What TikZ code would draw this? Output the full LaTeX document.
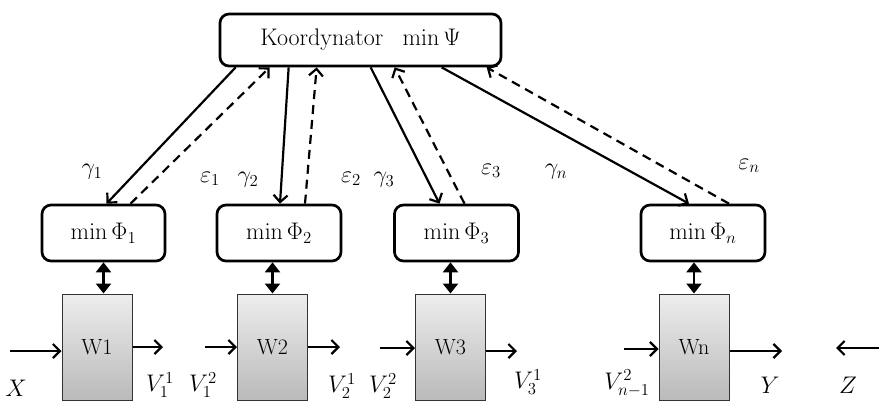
\RequirePackage{fix-cm}
\documentclass[tikz,border=0pt]{standalone}
\usetikzlibrary{arrows.meta,calc}
\begin{document}
\begin{tikzpicture}[x=1pt,y=-1pt,
  font=\fontsize{24}{28}\selectfont,
  rbox/.style={draw,line width=2.7pt,rounded corners=9pt,minimum height=56pt,inner sep=0pt},
  wbox/.style={draw=black!80,line width=1pt,top color=black!7,bottom color=black!27,minimum width=70pt,minimum height=106pt,inner sep=0pt,font=\fontsize{22}{26}\selectfont},
  tipb/.style={-{Straight Barb[length=7pt,width=14pt,line width=2.2pt]}},
  conn/.style={line width=2.2pt,tipb},
  dconn/.style={conn,dash pattern=on 9pt off 6pt},
  harr/.style={line width=2.7pt,tipb},
  link/.style={line width=2.4pt,{Triangle[length=10pt,width=15pt]}-{Triangle[length=10pt,width=15pt]}},
  lab/.style={inner sep=0pt}]
\useasboundingbox (0,0) rectangle (879,402);

% coordinator and local problems
\node[rbox,minimum width=281pt,minimum height=52pt] (K) at (360.5,40) {Koordynator\hspace{0.8em}$\min\Psi$};
\node[rbox,minimum width=123pt] (P1) at (103.5,233) {$\min\Phi_1$};
\node[rbox,minimum width=124pt] (P2) at (279,233) {$\min\Phi_2$};
\node[rbox,minimum width=124pt] (P3) at (456.5,233) {$\min\Phi_3$};
\node[rbox,minimum width=124pt] (Pn) at (703,233) {$\min\Phi_n$};

% subsystems
\node[wbox] (W1) at (97,347) {W1};
\node[wbox] (W2) at (272.5,347) {W2};
\node[wbox] (W3) at (450.5,347) {W3};
\node[wbox] (Wn) at (694,347) {Wn};

% coordination connectors
\draw[conn]  ($(K.south west)+(17,0)$)  -- ($(P1.north)+(3,0)$);
\draw[dconn] ($(P1.north)+(27,0)$)      -- ($(K.south west)+(51,0)$);
\draw[conn]  ($(K.south west)+(70,0)$)  -- ($(P2.north)+(1,0)$);
\draw[dconn] ($(P2.north)+(26,0)$)      -- ($(K.south west)+(98,0)$);
\draw[conn]  ($(K.south west)+(152,0)$) -- ($(P3.north)+(-17,0)$);
\draw[dconn] ($(P3.north)+(8,0)$)       -- ($(K.south west)+(176,0)$);
\draw[conn]  ($(K.south west)+(223,0)$) -- ($(Pn.north)+(-14,0)$);
\draw[dconn] ($(Pn.north)+(26,0)$)      -- ($(K.south west)+(268,0)$);

% labels of connectors
\node[lab] (g1) at (92,172) {$\gamma_1$};
\node[lab] (e1) at (210,179) {$\varepsilon_1$};
\node[lab] (g2) at (248,180) {$\gamma_2$};
\node[lab] (e2) at (351,179) {$\varepsilon_2$};
\node[lab] (g3) at (384,180) {$\gamma_3$};
\node[lab] (e3) at (491,171) {$\varepsilon_3$};
\node[lab] (gn) at (556,172) {$\gamma_n$};
\node[lab] (en) at (749,166) {$\varepsilon_n$};

% links between local problems and subsystems
\draw[link] (P1.south) -- (P1.south |- W1.north);
\draw[link] (W2.north |- P2.south) -- (W2.north);
\draw[link] (W3.north |- P3.south) -- (W3.north);
\draw[link] (Wn.north |- Pn.south) -- (Wn.north);

% flows
\coordinate (xin) at (10,351);
\draw[harr] (xin) -- (xin -| W1.west);
\coordinate (v11) at (163,347);
\draw[harr] (W1.east |- v11) -- (v11);
\coordinate (v12) at (205,347);
\draw[harr] (v12) -- (v12 -| W2.west);
\coordinate (v21) at (340,347);
\draw[harr] (W2.east |- v21) -- (v21);
\coordinate (v22) at (380,348);
\draw[harr] (v22) -- (v22 -| W3.west);
\coordinate (v31) at (517,351);
\draw[harr] (W3.east |- v31) -- (v31);
\coordinate (vn) at (624,349);
\draw[harr] (vn) -- (vn -| Wn.west);
\coordinate (yout) at (782,351);
\draw[harr] (Wn.east |- yout) -- (yout);
\coordinate (zs) at (879,348);
\coordinate (ze) at (836,348);
\draw[harr] (zs) -- (ze);

% flow labels
\node[lab] (lX) at (16,388) {$X$};
\node[lab] (lV11) at (160,385) {$V_1^1$};
\node[lab] (lV12) at (203,385) {$V_1^2$};
\node[lab] (lV21) at (342,386) {$V_2^1$};
\node[lab] (lV22) at (383,386) {$V_2^2$};
\node[lab] (lV31) at (528,382) {$V_3^1$};
\node[lab] (lVn) at (627,383) {$V_{n-1}^2$};
\node[lab] (lY) at (770,385) {$Y$};
\node[lab] (lZ) at (848,385) {$Z$};
\end{tikzpicture}
\end{document}
